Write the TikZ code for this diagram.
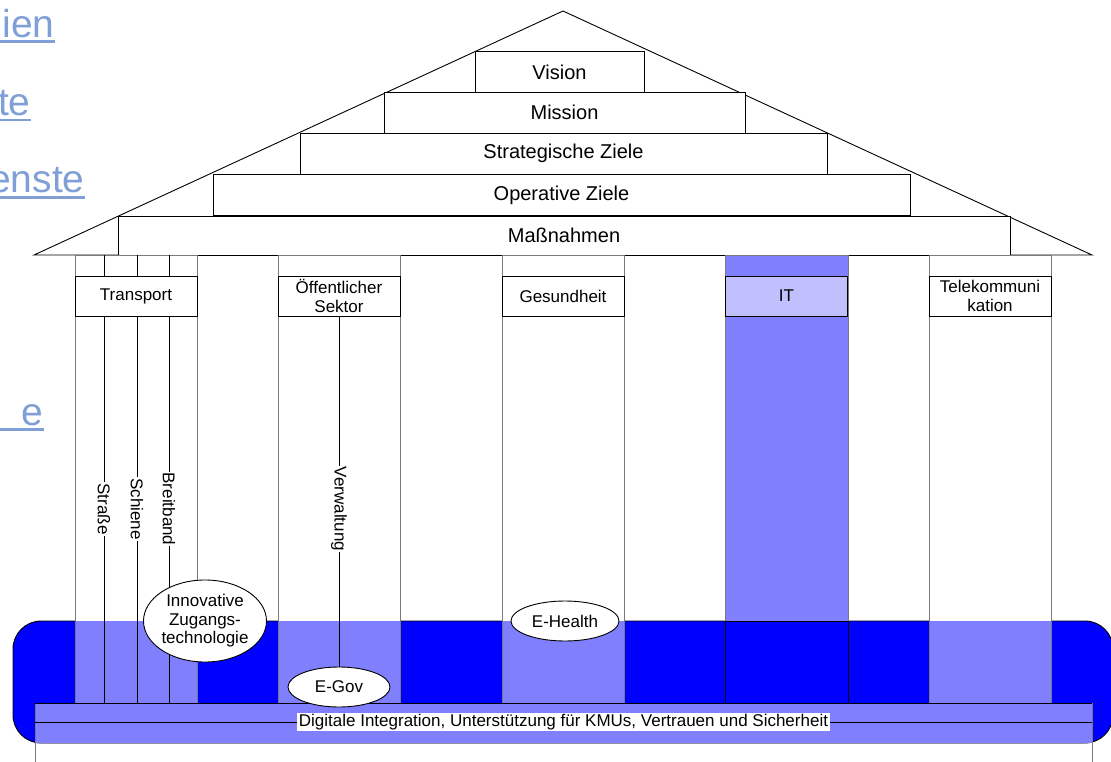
\documentclass[tikz,border=0pt]{standalone}
\usepackage{fontspec}
\setmainfont{Liberation Sans}
\usetikzlibrary{shapes.geometric}
\definecolor{bandblue}{HTML}{0000FF}
\definecolor{lightblue}{HTML}{8080FF}
\definecolor{itlabel}{HTML}{C0C0FF}
\definecolor{linkblue}{HTML}{7F9FD6}
\definecolor{colgray}{HTML}{7A7A7A}
\begin{document}
\begin{tikzpicture}[x=1pt,y=-1pt,line width=0.9pt,
  lvl/.style={draw=black,fill=white,inner sep=0pt,minimum height=41pt,font=\fontsize{20}{24}\selectfont},
  lab/.style={draw=black,fill=white,inner sep=0pt,minimum width=122pt,minimum height=40pt,align=center,font=\fontsize{17}{18.5}\selectfont},
  ell/.style={ellipse,draw=black,fill=white,inner sep=0pt,align=center,font=\fontsize{17}{18.5}\selectfont},
  vlab/.style={fill=white,inner sep=1pt,rotate=-90,font=\fontsize{17}{20}\selectfont},
  link/.style={text=linkblue,inner sep=0pt,font=\fontsize{39}{44}\selectfont},
  uline/.style={draw=linkblue,line width=2.6pt},
  colline/.style={draw=colgray}]
\useasboundingbox (0,0) rectangle (1111,762);
\fill[white] (0,0) rectangle (1111,762);

% links at the left edge
\node[link,anchor=base east] (l1) at (55,38) {ien};
\node[link,anchor=base east] (l2) at (31,116) {te};
\node[link,anchor=base east] (l3) at (85,193) {enste};
\node[link,anchor=base east] (l4) at (44,425) {e};
\draw[uline] (0,41.5) -- (55,41.5);
\draw[uline] (0,120) -- (31,120);
\draw[uline] (0,197.5) -- (85,197.5);
\draw[uline] (0,429.5) -- (44,429.5);

% roof
\coordinate (rl) at (34,255);
\coordinate (ra) at (563,11);
\coordinate (rr) at (1092,255);
\draw (rl) -- (ra) -- (rr) -- cycle;

% pediment levels
\node[lvl,minimum width=169pt] (vision) at (559.5,72) {Vision};
\node[lvl,minimum width=361pt] (mission) at (564.5,112.5) {Mission};
\node[lvl,minimum width=527pt] (strat) at (563.5,153.5) {Strategische Ziele};
\node[lvl,minimum width=697pt] (oper) at (561.5,195) {Operative Ziele};
\node[lvl,minimum width=892pt,minimum height=39pt] (mass) at (564,235.5) {Maßnahmen};

% blue band
\draw[fill=bandblue,draw=black,rounded corners=28] (13,621) rectangle (1113,743);

% columns
\foreach \xa/\xb in {75/197,278/400,502/624,929/1051}{
  \fill[white] (\xa,255) rectangle (\xb,621);
  \fill[lightblue] (\xa,621) rectangle (\xb,703);
  \draw[colline] (\xa,255) rectangle (\xb,703);
}
\fill[lightblue] (725,255) rectangle (848,621);
\draw[colline] (725,255) rectangle (848,703);
\draw[fill=bandblue,draw=black] (725,621) rectangle (848,703);

% transport inner lines
\coordinate (s1) at (104,255); \coordinate (s2) at (104,703);
\coordinate (t1) at (137,255); \coordinate (t2) at (137,703);
\coordinate (b1) at (169,255); \coordinate (b2) at (169,703);
\draw (s1) -- (s2);
\draw (t1) -- (t2);
\draw (b1) -- (b2);

% column labels
\node[lab] (transport) at (136,296) {Transport};
\node[lab] (oeff) at (339,296) {Öffentlicher\\Sektor};
\node[lab] (gesund) at (563,296) {Gesundheit};
\node[lab,fill=itlabel] (it) at (786.5,296) {IT};
\node[lab] (tele) at (990,296) {Telekommuni\\kation};

% bottom strip
\fill[lightblue] (35,703) rectangle (1092,743);
\draw[colline] (35,775) -- (35,703);
\draw[colline] (1092,775) -- (1092,703);
\draw (35,703) -- (1092,703);
\coordinate (d1) at (35,722);
\coordinate (d2) at (1092,722);
\draw (d1) -- (d2);
\node[fill=white,inner sep=1.5pt,font=\fontsize{17}{20}\selectfont] (digi) at (563.5,722) {Digitale Integration, Unterstützung für KMUs, Vertrauen und Sicherheit};

% ellipses
\node[ell,minimum width=102pt,minimum height=40pt] (egov) at (339,687) {E-Gov};
\draw (oeff.south) -- (egov.north);
\node[ell,minimum width=108pt,minimum height=40pt] (ehealth) at (565,621) {E-Health};
\node[ell,minimum width=123pt,minimum height=82pt] (innov) at (205,621) {Innovative\\Zugangs-\\technologie};

% vertical labels
\node[vlab] (strasse) at (104,509) {Straße};
\node[vlab] (schiene) at (137,509) {Schiene};
\node[vlab] (breit) at (169,509) {Breitband};
\node[vlab] (verw) at (339,509) {Verwaltung};
\end{tikzpicture}
\end{document}
